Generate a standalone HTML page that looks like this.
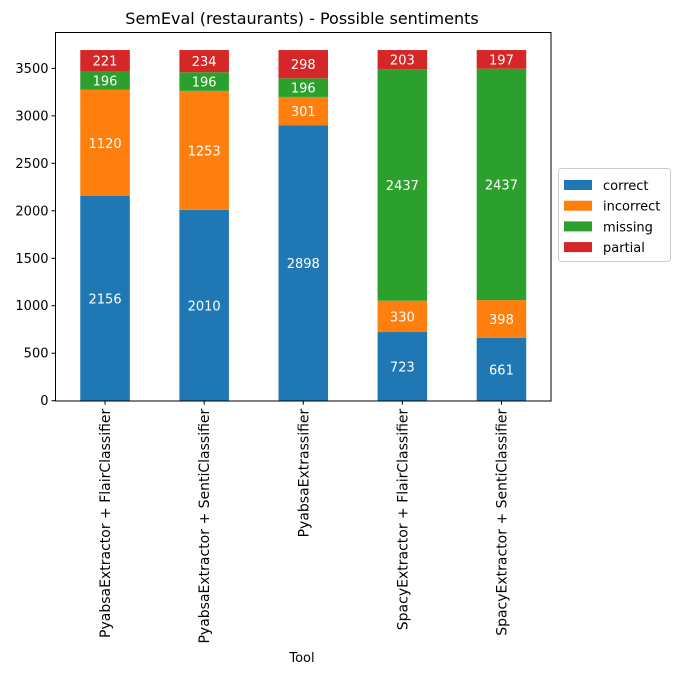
<!DOCTYPE html>
<html><head><meta charset="utf-8"><style>
body{margin:0;background:#fff;font-family:"Liberation Sans","DejaVu Sans",sans-serif}
svg text{font-family:"DejaVu Sans","Liberation Sans",sans-serif}
</style></head><body>
<svg id="chart" width="679" height="674" xmlns="http://www.w3.org/2000/svg">
<text x="302" y="24" font-size="16" text-anchor="middle">SemEval (restaurants) - Possible sentiments</text>
<g id="bars"></g>
<g id="yaxis"></g>
<g id="xaxis"></g>
<rect x="55.5" y="32.5" width="495.5" height="368.5" fill="none" stroke="#000" stroke-width="1"/>
<text x="302" y="662" font-size="13" text-anchor="middle">Tool</text>
<g id="legend"></g>
</svg>
<script>
const categories=["PyabsaExtractor + FlairClassifier","PyabsaExtractor + SentiClassifier","PyabsaExtrassifier","SpacyExtractor + FlairClassifier","SpacyExtractor + SentiClassifier"];
const correct=[2156,2010,2898,723,661];
const incorrect=[1120,1253,301,330,398];
const missing=[196,196,196,2437,2437];
const partial=[221,234,298,203,197];
const yTicks=[0,500,1000,1500,2000,2500,3000,3500];
const seriesNames=["correct","incorrect","missing","partial"];
const colors=["#1f77b4","#ff7f0e","#2ca02c","#d62728"];
const series=[correct,incorrect,missing,partial];
const NS="http://www.w3.org/2000/svg";
const L=55.5,R=551,T=32.5,B=400.7;
const totals=categories.map((c,i)=>series.reduce((s,a)=>s+a[i],0));
const yMax=Math.max(...totals)*1.05;
const y=v=>B-v/yMax*(B-T);
const step=(R-L)/categories.length;
const xc=i=>L+step*(i+0.5);
const bw=step*0.5;
function el(t,a,p){const e=document.createElementNS(NS,t);for(const k in a)e.setAttribute(k,a[k]);p.appendChild(e);return e;}
const gb=document.getElementById('bars');
categories.forEach((c,i)=>{let base=0;
 series.forEach((s,k)=>{const v=s[i];
  const r=el('rect',{x:xc(i)-bw/2,y:y(base+v),width:bw,height:y(base)-y(base+v),fill:colors[k]},gb);
  
  
  const t=el('text',{x:xc(i),y:(y(base)+y(base+v))/2+5,fill:'#fff','font-size':13,'text-anchor':'middle'},gb);
  t.textContent=v;
  
  
  base+=v;});});
const gy=document.getElementById('yaxis');
yTicks.forEach(v=>{el('line',{x1:L-4,x2:L,y1:y(v),y2:y(v),stroke:'#000'},gy);
 const t=el('text',{x:L-7,y:y(v)+4.5,'font-size':13,'text-anchor':'end'},gy);t.textContent=v;
 
 });
const gx=document.getElementById('xaxis');
categories.forEach((c,i)=>{el('line',{x1:xc(i),x2:xc(i),y1:B,y2:B+4,stroke:'#000'},gx);
 const t=el('text',{x:0,y:0,'font-size':14,'text-anchor':'end',transform:`translate(${xc(i)+5},${B+8}) rotate(-90)`},gx);t.textContent=c;
 
 });
const lg=document.getElementById('legend');
el('rect',{x:558.5,y:168.5,width:112,height:93,fill:'#fff',stroke:'#ccc',rx:3},lg);
seriesNames.forEach((n,k)=>{const yy=185+k*20.7;
 const sw=el('rect',{x:564,y:yy-5,width:28,height:10,fill:colors[k]},lg);
 
 
 const t=el('text',{x:603,y:yy+5,'font-size':13},lg);t.textContent=n;
 
 });
</script>
</body></html>
